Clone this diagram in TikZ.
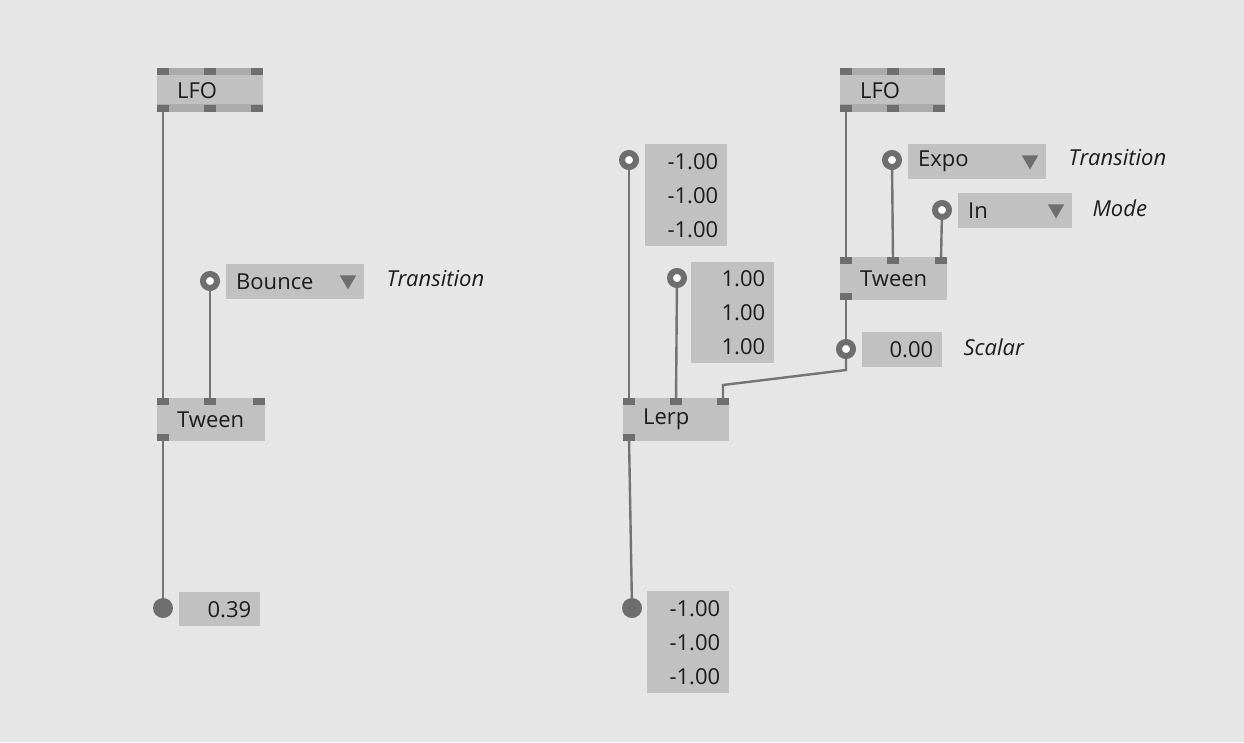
\documentclass[tikz,border=0pt]{standalone}
\usepackage{fontspec}
\setmainfont{Open Sans}
\usepackage{tikz}
\usetikzlibrary{shapes.geometric, backgrounds}

\definecolor{bggray}{HTML}{E6E6E6}
\definecolor{boxgray}{HTML}{C1C1C1}
\definecolor{stripgray}{HTML}{ABABAB}
\definecolor{portgray}{HTML}{6E6E6E}
\definecolor{wiregray}{HTML}{747474}
\definecolor{inkgray}{HTML}{1C1C1C}

\begin{document}
\begin{tikzpicture}[
        x=1pt, y=-1pt,
        every node/.style={font=\fontsize{22}{34}\selectfont, text=inkgray},
        block/.style={rectangle, anchor=north west, fill=boxgray, inner xsep=20pt, inner ysep=0pt, minimum height=43pt, align=left},
        lfo/.style={block, minimum height=44pt, path picture={
            \fill[stripgray] (path picture bounding box.north west) rectangle ([yshift=-7pt]path picture bounding box.north east);
            \fill[stripgray] ([yshift=8pt]path picture bounding box.south west) rectangle (path picture bounding box.south east);}},
        dropdown/.style={rectangle, anchor=north west, fill=boxgray, inner xsep=10pt, inner ysep=0pt, minimum height=35pt, align=left},
        valbox/.style={rectangle, anchor=north west, fill=boxgray, inner xsep=9pt, inner ysep=0pt, align=right},
        port/.style={rectangle, fill=portgray, minimum width=12pt, minimum height=7pt, inner sep=0pt},
        inpin/.style={circle, fill=white, draw=portgray, line width=6pt, minimum size=14pt, inner sep=0pt},
        outpin/.style={circle, fill=portgray, minimum size=20pt, inner sep=0pt},
        tri/.style={regular polygon, regular polygon sides=3, shape border rotate=180, fill=portgray, minimum size=19pt, inner sep=0pt},
        caption/.style={anchor=west, font=\fontsize{22}{34}\selectfont\itshape},
        wire/.style={draw=wiregray, line width=2.4pt}
    ]

    \begin{scope}[on background layer]
        \fill[bggray] (0,0) rectangle (1244,742);
    \end{scope}
    \useasboundingbox (0,0) rectangle (1244,742);

    % left patch
    \node[lfo, text width=66pt] (lfoL) at (157,68) {LFO};
    \node[port] (lfoL-i1) at (163,71.5) {};
    \node[port] (lfoL-i2) at (210,71.5) {};
    \node[port] (lfoL-i3) at (257,71.5) {};
    \node[port] (lfoL-o1) at (163,108) {};
    \node[port] (lfoL-o2) at (210,108) {};
    \node[port] (lfoL-o3) at (257,108) {};

    \node[dropdown, text width=118pt] (bounce) at (226,264) {Bounce};
    \node[tri] (bounce-tri) at (348,280) {};
    \node[inpin] (bounce-pin) at (210,281) {};
    \node[caption] (bounce-cap) at (383,279) {Transition};

    \node[block, text width=68pt] (tweenL) at (157,398) {Tween};
    \node[port] (tweenL-i1) at (163,401.5) {};
    \node[port] (tweenL-i2) at (210,401.5) {};
    \node[port] (tweenL-i3) at (259,401.5) {};
    \node[port] (tweenL-o1) at (163,437.5) {};

    \node[valbox, text width=63pt, minimum height=34pt] (outL) at (179,592) {0.39};
    \node[outpin] (outL-pin) at (163,608) {};

    % right patch
    \node[lfo, text width=65pt] (lfoR) at (840,68) {LFO};
    \node[port] (lfoR-i1) at (846,71.5) {};
    \node[port] (lfoR-i2) at (893,71.5) {};
    \node[port] (lfoR-i3) at (939,71.5) {};
    \node[port] (lfoR-o1) at (846,108) {};
    \node[port] (lfoR-o2) at (893,108) {};
    \node[port] (lfoR-o3) at (939,108) {};

    \node[dropdown, text width=118pt] (expo) at (908,144) {Expo};
    \node[tri] (expo-tri) at (1030,160) {};
    \node[inpin] (expo-pin) at (892,160) {};
    \node[caption] (expo-cap) at (1065,158) {Transition};

    \node[dropdown, text width=94pt] (mode) at (958,193) {In};
    \node[tri] (mode-tri) at (1056,209) {};
    \node[inpin] (mode-pin) at (942,210) {};
    \node[caption] (mode-cap) at (1089,208) {Mode};

    \node[block, text width=67pt] (tweenR) at (840,257) {Tween};
    \node[port] (tweenR-i1) at (846,260.5) {};
    \node[port] (tweenR-i2) at (893,260.5) {};
    \node[port] (tweenR-i3) at (941,260.5) {};
    \node[port] (tweenR-o1) at (846,296.5) {};

    \node[valbox, text width=62pt, minimum height=35pt] (scalar) at (862,332) {0.00};
    \node[inpin] (scalar-pin) at (846,349) {};
    \node[caption] (scalar-cap) at (960,347) {Scalar};

    \node[valbox, text width=64pt, minimum height=102pt] (vecA) at (645,144) {-1.00\\-1.00\\-1.00};
    \node[inpin] (vecA-pin) at (629,160) {};

    \node[valbox, text width=65pt, minimum height=101pt] (vecB) at (691,262) {1.00\\1.00\\1.00};
    \node[inpin] (vecB-pin) at (677,278) {};

    \node[block, text width=66pt] (lerp) at (623,398) {Lerp};
    \node[port] (lerp-i1) at (629,401.5) {};
    \node[port] (lerp-i2) at (676,401.5) {};
    \node[port] (lerp-i3) at (723,401.5) {};
    \node[port] (lerp-o1) at (629,437.5) {};

    \node[valbox, text width=64pt, minimum height=102pt] (outR) at (647,591) {-1.00\\-1.00\\-1.00};
    \node[outpin] (outR-pin) at (632,608) {};

    \coordinate (bendA) at (846,370);
    \coordinate (bendB) at (723,385);

    \begin{scope}[on background layer]
        \draw[wire] (lfoL-o1.center) -- (tweenL-i1.center);
        \draw[wire] (bounce-pin.center) -- (tweenL-i2.center);
        \draw[wire] (tweenL-o1.center) -- (outL-pin.center);

        \draw[wire] (lfoR-o1.center) -- (tweenR-i1.center);
        \draw[wire] (expo-pin.center) -- (tweenR-i2.center);
        \draw[wire] (mode-pin.center) -- (tweenR-i3.center);
        \draw[wire] (tweenR-o1.center) -- (scalar-pin.center);
        \draw[wire] (scalar-pin.center) -- (bendA) -- (bendB) -- (lerp-i3.center);
        \draw[wire] (vecA-pin.center) -- (lerp-i1.center);
        \draw[wire] (vecB-pin.center) -- (lerp-i2.center);
        \draw[wire] (lerp-o1.center) -- (outR-pin.center);
    \end{scope}

\end{tikzpicture}
\end{document}
